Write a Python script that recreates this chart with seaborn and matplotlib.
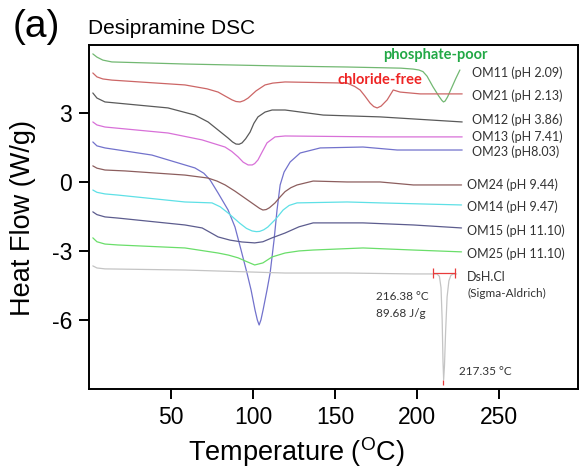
import pandas as pd
import matplotlib
matplotlib.use('Agg')
import matplotlib.pyplot as plt
import seaborn as sns

# DSC traces: temperature (C) and heat flow (W/g)
om11_t = [2.4, 4.9, 8.5, 14, 58.5, 119.5, 157, 190, 197.5, 201, 203.5, 206, 209.5, 213, 215, 216,
          217, 218.5, 221, 223.5, 226]
om11_hf = [5.57, 5.43, 5.30, 5.22, 5.13, 5.04, 5.0, 4.95, 4.91, 4.87, 4.80, 4.6, 4.15, 3.75, 3.55,
           3.48, 3.52, 3.7, 4.1, 4.5, 4.87]

om21_t = [2.4, 4.9, 8.5, 14, 58.5, 72, 78.7, 82.9, 87.2, 89.6, 92.1, 94.5, 97, 101.8, 107.3, 112,
          119.5, 157.3, 162, 165.2, 168, 171.3, 173.5, 175.6, 178, 181.7, 185.4, 189.6, 201.8, 227.4]
om21_hf = [4.74, 4.57, 4.48, 4.43, 4.22, 4.05, 3.91, 3.74, 3.57, 3.50, 3.48, 3.54, 3.65, 3.96, 4.22,
           4.30, 4.35, 4.30, 4.15, 4.0, 3.75, 3.43, 3.28, 3.22, 3.30, 3.57, 4.0, 3.91, 3.83, 3.83]

om12_t = [2.4, 4.9, 9.8, 48.2, 64.6, 72.6, 78.7, 84.8, 87.5, 89.6, 91.5, 93.3, 95.5, 98.2, 100.5,
          103, 107.3, 111.6, 119.5, 142.7, 177.4, 227.4]
om12_hf = [3.87, 3.65, 3.48, 3.22, 2.91, 2.61, 2.26, 1.91, 1.74, 1.65, 1.64, 1.70, 1.88, 2.17, 2.55,
           2.83, 3.04, 3.13, 3.13, 2.91, 2.83, 2.61]

om13_t = [2.4, 4.9, 9.8, 48.2, 68.9, 82.9, 87, 90.9, 94, 97, 99.5, 101, 103, 105.5, 108.5, 113.4,
          119.5, 177.4, 227.4]
om13_hf = [2.61, 2.48, 2.39, 2.13, 1.83, 1.52, 1.33, 1.09, 0.86, 0.74, 0.74, 0.80, 0.96, 1.30, 1.70,
           1.96, 2.0, 1.96, 1.96]

om23_t = [2.4, 4.9, 9.8, 38.4, 48.2, 64.6, 70, 73.8, 78.7, 84.8, 89, 92.7, 96.3, 98.8, 101.2, 102.6,
          103.7, 104.8, 106.1, 108.5, 110.4, 112.8, 114.6, 116.5, 118.9, 122.6, 128.7, 140.9, 167,
          187.8, 227.4]
om23_hf = [1.74, 1.57, 1.48, 1.17, 0.96, 0.61, 0.38, 0.09, -0.48, -1.22, -1.96, -2.96, -3.96, -4.70,
           -5.57, -6.0, -6.22, -6.0, -5.57, -4.70, -3.96, -2.52, -1.22, -0.13, 0.43, 0.87, 1.26,
           1.48, 1.52, 1.39, 1.39]

om24_t = [2.4, 4.9, 9.8, 22, 58.5, 72.6, 78, 83, 89, 95, 101, 104, 106, 108, 110, 113.4, 116.5,
          119.5, 123, 126.8, 136.6, 157.3, 177.4, 197.6, 227]
om24_hf = [0.70, 0.60, 0.52, 0.48, 0.30, 0.17, 0.04, -0.13, -0.40, -0.70, -1.0, -1.15, -1.22, -1.20,
           -1.12, -0.91, -0.65, -0.42, -0.25, -0.13, 0.04, 0.0, 0.0, -0.13, -0.13]

om14_t = [2.4, 4.9, 9.8, 17.7, 58.5, 75, 80, 84.8, 92, 96, 99.4, 102, 104, 106.5, 109, 114, 118.3,
          122, 126.8, 157.3, 177.4, 227]
om14_hf = [-0.35, -0.45, -0.52, -0.57, -0.87, -0.91, -1.08, -1.35, -1.8, -2.02, -2.13, -2.16, -2.15,
           -2.08, -1.96, -1.6, -1.22, -1.02, -0.91, -0.87, -0.91, -1.0]

om15_t = [2.4, 4.9, 9.8, 17.7, 58.5, 69, 74, 78.7, 86, 93.3, 101, 106, 111.6, 119.5, 128, 136.6, 167,
          197.6, 227]
om15_hf = [-1.30, -1.42, -1.52, -1.57, -1.87, -2.0, -2.2, -2.39, -2.53, -2.61, -2.65, -2.6, -2.43,
           -2.22, -1.95, -1.78, -1.78, -1.87, -2.0]

om25_t = [2.4, 4.9, 9.8, 17.7, 58.5, 78.7, 85, 90.9, 96, 101, 106, 111.6, 119.5, 128, 136.6, 167,
          197.6, 227]
om25_hf = [-2.43, -2.6, -2.70, -2.74, -2.87, -3.09, -3.18, -3.30, -3.46, -3.61, -3.52, -3.26, -3.09,
           -3.0, -2.96, -2.87, -2.96, -3.04]

dsh_t = [2.4, 4.9, 9.8, 58.5, 119.5, 157, 197.6, 212, 213.5, 214.5, 215.2, 215.7, 216.1, 216.6,
         217.3, 218.2, 219.3, 220.5, 222, 224]
dsh_hf = [-3.65, -3.74, -3.78, -3.83, -3.96, -3.96, -4.0, -4.0, -4.1, -4.6, -6.0, -7.8, -8.6, -8.0,
          -6.5, -5.0, -4.3, -4.06, -4.0, -4.0]

samples = ['OM11 (pH 2.09)', 'OM21 (pH 2.13)', 'OM12 (pH 3.86)', 'OM13 (pH 7.41)', 'OM23 (pH8.03)',
           'OM24 (pH 9.44)', 'OM14 (pH 9.47)', 'OM15 (pH 11.10)', 'OM25 (pH 11.10)', 'DsH.Cl']
colors = ['#72b872', '#cc6666', '#5a5a5a', '#d870d8', '#7272cc',
          '#8c5e5e', '#5ee0e6', '#5c5c8e', '#6ade6a', '#c4c4c4']

# integration limits of the DsH.Cl melting peak
integ_limits = [209.8, 223.2]
integ_base = -3.96

traces = [(om11_t, om11_hf), (om21_t, om21_hf), (om12_t, om12_hf), (om13_t, om13_hf),
          (om23_t, om23_hf), (om24_t, om24_hf), (om14_t, om14_hf), (om15_t, om15_hf),
          (om25_t, om25_hf), (dsh_t, dsh_hf)]

frames = []
for name, (t, hf) in zip(samples, traces):
    frames.append(pd.DataFrame({'T': t, 'HF': hf, 'sample': name}))
df = pd.concat(frames, ignore_index=True)

sns.set_style('ticks')
plt.rcParams['font.family'] = ['Liberation Sans', 'DejaVu Sans']
plt.rcParams['axes.unicode_minus'] = False
plt.rcParams['text.color'] = 'black'
plt.rcParams['axes.labelcolor'] = 'black'
plt.rcParams['xtick.color'] = 'black'
plt.rcParams['ytick.color'] = 'black'

fig = plt.figure(figsize=(5.81, 4.68), dpi=100)
ax = fig.add_axes([0.153, 0.169, 0.842, 0.735])

sns.lineplot(data=df, x='T', y='HF', hue='sample', palette=dict(zip(samples, colors)),
             sort=False, estimator=None, legend=False, linewidth=0.9, ax=ax)

# red integration markers on the reference peak
ax.hlines(integ_base, integ_limits[0], integ_limits[1], color='#e83c3c', lw=0.9)
ax.vlines(integ_limits, integ_base - 0.2, integ_base + 0.2, color='#e83c3c', lw=0.9)
ax.vlines(216.0, -8.85, -8.6, color='#e83c3c', lw=0.9)

ax.set_xlim(0, 298)
ax.set_ylim(-9, 5.96)
ax.set_xticks([50, 100, 150, 200, 250])
ax.set_yticks([3, 0, -3, -6])
ax.tick_params(direction='out', length=7, width=1.4, labelsize=16.5, color='black',
               labelcolor='black', pad=5)
for s in ax.spines.values():
    s.set_visible(True)
    s.set_linewidth(1.4)
    s.set_color('black')

ax.set_xlabel('Temperature ($^{\\mathregular{O}}$C)', fontsize=19.5, va='center')
ax.set_ylabel('Heat Flow (W/g)', fontsize=19.5, va='center', ha='center')
ax.xaxis.set_label_coords(0.424, -0.183)
ax.yaxis.set_label_coords(-0.135, 0.496)

fig.text(0.062, 0.942, '(a)', fontsize=28, ha='center', va='center', color='black')
fig.text(0.151, 0.940, 'Desipramine DSC', fontsize=15, ha='left', va='center', color='black')

lab_font = ['Lato', 'DejaVu Sans']
label_y = [4.74, 3.74, 2.70, 1.96, 1.30, -0.13, -1.09, -2.13, -3.13, -4.13]
for i, (name, y) in enumerate(zip(samples, label_y)):
    x = 233.5 if i < 5 else 230.5
    ax.text(x, y, name, fontsize=9, family=lab_font, color='#333333', va='center', ha='left')
ax.text(230.5, -4.83, '(Sigma-Aldrich)', fontsize=8.5, family=lab_font, color='#333333',
        va='center', ha='left')

ax.text(211, 5.52, 'phosphate-poor', fontsize=10.5, family=lab_font, fontweight='bold',
        color='#22a846', ha='center', va='center')
ax.text(177.4, 4.43, 'chloride-free', fontsize=10.5, family=lab_font, fontweight='bold',
        color='#ee2424', ha='center', va='center')

ax.text(175, -5.0, '216.38 \u00b0C', fontsize=8.5, family=lab_font, color='#333333', va='center')
ax.text(175, -5.7, '89.68 J/g', fontsize=8.5, family=lab_font, color='#333333', va='center')
ax.text(225.6, -8.26, '217.35 \u00b0C', fontsize=8.5, family=lab_font, color='#333333', va='center')

fig.savefig('out.png', dpi=100)
